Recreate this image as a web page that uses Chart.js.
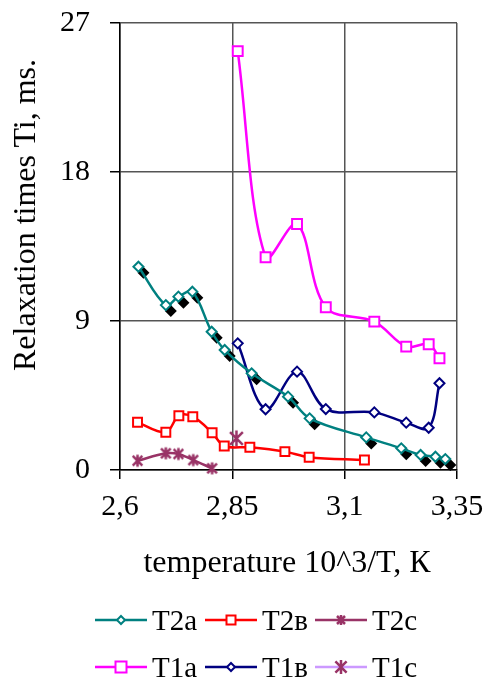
<!DOCTYPE html>
<html lang="en">
<head>
    <meta charset="UTF-8">
    <title>Relaxation times</title>
    <script src="https://cdn.jsdelivr.net/npm/chart.js"></script>
    <style>
        body {
            margin: 0;
            background: #fff;
            font-family: 'Liberation Serif', 'Times New Roman', serif;
            color: #000;
        }
        .wrap {
            position: relative;
            width: 489px;
            height: 683px;
        }
        canvas {
            position: absolute;
            left: 0;
            top: 0;
        }
        .ytitle {
            position: absolute;
            left: 24px;
            top: 215px;
            transform: translate(-50%, -50%) rotate(-90deg);
            white-space: nowrap;
            font-size: 32px;
            line-height: 1;
        }
        .xtitle {
            position: absolute;
            left: 287px;
            top: 545px;
            transform: translateX(-50%);
            white-space: nowrap;
            font-size: 32px;
            line-height: 1;
        }
        .lg-mark {
            position: absolute;
        }
        .lg-text {
            position: absolute;
            font-size: 29px;
            line-height: 1;
            white-space: nowrap;
        }
    </style>
</head>
<body>
<div class="wrap" id="wrap">
    <canvas id="chart" width="489" height="683"></canvas>
    <div class="ytitle">Relaxation times Ti, ms.</div>
    <div class="xtitle">temperature 10^3/T, К</div>
</div>
<script>
    // axis ticks
    const xTicks = [2.6, 2.85, 3.1, 3.35];
    const yTicks = [0, 9, 18, 27];

    // series
    const t2aX = [2.641, 2.702, 2.730, 2.761, 2.804, 2.833, 2.893, 2.974, 3.022, 3.148, 3.226, 3.269, 3.302, 3.324];
    const t2aY = [12.28, 9.96, 10.47, 10.77, 8.35, 7.25, 5.84, 4.43, 3.12, 1.97, 1.31, 0.91, 0.80, 0.66];

    const t2bX = [2.639, 2.702, 2.731, 2.762, 2.805, 2.832, 2.889, 2.967, 3.021, 3.144];
    const t2bY = [2.88, 2.28, 3.28, 3.22, 2.25, 1.45, 1.37, 1.11, 0.77, 0.60];

    const t2cX = [2.639, 2.702, 2.730, 2.763, 2.805];
    const t2cY = [0.56, 1.01, 0.97, 0.60, 0.10];

    const t1X = [2.862, 2.924, 2.994, 3.058, 3.166, 3.237, 3.287, 3.311];
    const t1aY = [25.30, 12.85, 14.86, 9.83, 8.96, 7.45, 7.60, 6.75];
    const t1bY = [7.65, 3.67, 5.94, 3.68, 3.48, 2.86, 2.55, 5.24];

    const t1cX = [2.859];
    const t1cY = [1.91];

    const pts = (xs, ys) => xs.map((x, i) => ({ x: x, y: ys[i] }));

    // asterisk marker like the spreadsheet one (X plus vertical bar)
    function asterisk(r, color, lw) {
        const c = document.createElement('canvas');
        const s = Math.ceil(r * 2 + lw + 2);
        c.width = s; c.height = s;
        const g = c.getContext('2d');
        const m = s / 2;
        g.strokeStyle = color;
        g.lineWidth = lw;
        g.beginPath();
        g.moveTo(m, m - r); g.lineTo(m, m + r);
        g.moveTo(m - r * 0.8, m - r * 0.8); g.lineTo(m + r * 0.8, m + r * 0.8);
        g.moveTo(m + r * 0.8, m - r * 0.8); g.lineTo(m - r * 0.8, m + r * 0.8);
        g.stroke();
        return c;
    }

    const series = [
        { label: 'T2a', data: pts(t2aX, t2aY), color: '#008080', style: 'rectRot', radius: 5, shadow: true },
        { label: 'T2в', data: pts(t2bX, t2bY), color: '#FF0000', style: 'rect', radius: 6.3 },
        { label: 'T2c', data: pts(t2cX, t2cY), color: '#993366', style: asterisk(6, '#993366', 2.5), radius: 6 },
        { label: 'T1a', data: pts(t1X, t1aY), color: '#FF00FF', style: 'rect', radius: 7 },
        { label: 'T1в', data: pts(t1X, t1bY), color: '#000080', style: 'rectRot', radius: 5 },
        { label: 'T1c', data: pts(t1cX, t1cY), color: '#CC99FF', style: asterisk(8, '#993366', 2.5), radius: 8 }
    ];

    // black drop shadow behind the T2a markers
    const markerShadow = {
        id: 'markerShadow',
        beforeDatasetDraw(chart, args) {
            const ds = chart.data.datasets[args.index];
            if (!ds.shadow) return;
            const ctx = chart.ctx;
            const r = ds.pointRadius + 1;
            ctx.save();
            ctx.fillStyle = '#000';
            args.meta.data.forEach(p => {
                const cx = p.x + 5, cy = p.y + 6;
                ctx.beginPath();
                ctx.moveTo(cx - r, cy);
                ctx.lineTo(cx, cy - r);
                ctx.lineTo(cx + r, cy);
                ctx.lineTo(cx, cy + r);
                ctx.closePath();
                ctx.fill();
            });
            ctx.restore();
        }
    };

    const tickFont = { family: "'Liberation Serif', 'Times New Roman', serif", size: 30 };

    new Chart(document.getElementById('chart'), {
        type: 'line',
        data: {
            datasets: series.map(s => ({
                label: s.label,
                data: s.data,
                borderColor: s.color,
                borderWidth: 2.5,
                pointStyle: s.style,
                pointRadius: s.radius,
                pointBorderColor: s.color,
                pointBackgroundColor: '#fff',
                pointBorderWidth: 2,
                tension: 0.35,
                clip: false,
                shadow: !!s.shadow
            }))
        },
        options: {
            responsive: false,
            animation: false,
            events: [],
            layout: { padding: { top: 23, right: 32, bottom: 0, left: 0 } },
            plugins: {
                legend: { display: false },
                tooltip: { enabled: false }
            },
            scales: {
                x: {
                    type: 'linear',
                    min: 2.6,
                    max: 3.35,
                    afterBuildTicks: s => { s.ticks = xTicks.map(v => ({ value: v })); },
                    afterFit: s => {
                        s.height = 213;
                        s.paddingLeft = 0;
                        s.paddingRight = 0;
                    },
                    ticks: {
                        color: '#000',
                        font: tickFont,
                        padding: 10,
                        maxRotation: 0,
                        callback: v => String(v).replace('.', ',')
                    },
                    grid: { color: '#555', lineWidth: 1.5, tickLength: 9, tickColor: '#000' },
                    border: { color: '#000', width: 1.5 }
                },
                y: {
                    min: 0,
                    max: 27,
                    afterBuildTicks: s => { s.ticks = yTicks.map(v => ({ value: v })); },
                    afterFit: s => {
                        s.width = 120;
                        s.paddingTop = 0;
                        s.paddingBottom = 0;
                    },
                    ticks: { color: '#000', font: tickFont, padding: 20 },
                    grid: { color: '#555', lineWidth: 1.5, tickLength: 10, tickColor: '#000' },
                    border: { color: '#000', width: 1.5 }
                }
            }
        },
        plugins: [markerShadow]
    });

    // legend in two rows of three, built from the series list
    const wrap = document.getElementById('wrap');
    const rowY = [620, 667];
    const colX = [95, 205, 315];
    function markerSvg(s) {
        const c = s.color;
        let m = '';
        if (s.label === 'T2a' || s.label === 'T1в') {
            m = `<path d="M26 6 L30 10 L26 14 L22 10 Z" fill="#fff" stroke="${c}" stroke-width="2"/>`;
        } else if (s.label === 'T2в') {
            m = `<rect x="21.5" y="5.5" width="9" height="9" fill="#fff" stroke="${c}" stroke-width="2"/>`;
        } else if (s.label === 'T1a') {
            m = `<rect x="20.5" y="4.5" width="11" height="11" fill="#fff" stroke="${c}" stroke-width="2"/>`;
        } else {
            const r = s.label === 'T1c' ? 7 : 5;
            const d = r * 0.8;
            m = `<path d="M26 ${10 - r} V${10 + r} M${26 - d} ${10 - d} L${26 + d} ${10 + d} M${26 + d} ${10 - d} L${26 - d} ${10 + d}" stroke="#993366" stroke-width="2.5"/>`;
        }
        return `<svg width="52" height="20" viewBox="0 0 52 20"><line x1="0" y1="10" x2="52" y2="10" stroke="${c}" stroke-width="2.5"/>${m}</svg>`;
    }
    series.forEach((s, i) => {
        const row = Math.floor(i / 3), col = i % 3;
        const mk = document.createElement('div');
        mk.className = 'lg-mark';
        mk.style.left = colX[col] + 'px';
        mk.style.top = (rowY[row] - 10) + 'px';
        mk.innerHTML = markerSvg(s);
        wrap.appendChild(mk);
        const tx = document.createElement('div');
        tx.className = 'lg-text';
        tx.style.left = (colX[col] + 57) + 'px';
        tx.style.top = (rowY[row] - 14) + 'px';
        tx.textContent = s.label;
        wrap.appendChild(tx);
    });
</script>
</body>
</html>
